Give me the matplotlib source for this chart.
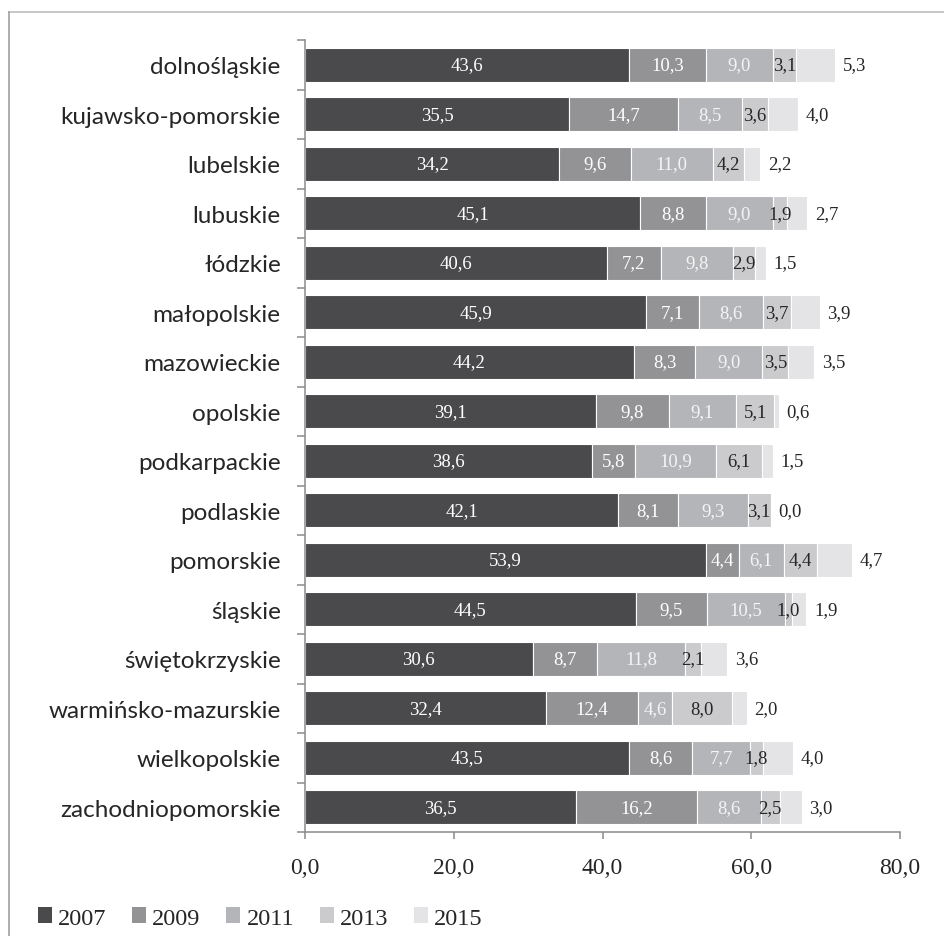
import numpy as np
import matplotlib
matplotlib.use('Agg')
import matplotlib.pyplot as plt
from matplotlib.patches import Patch
from matplotlib.lines import Line2D

regions = ['dolnośląskie', 'kujawsko-pomorskie', 'lubelskie', 'lubuskie', 'łódzkie',
           'małopolskie', 'mazowieckie', 'opolskie', 'podkarpackie', 'podlaskie',
           'pomorskie', 'śląskie', 'świętokrzyskie', 'warmińsko-mazurskie',
           'wielkopolskie', 'zachodniopomorskie']
years = ['2007', '2009', '2011', '2013', '2015']

v2007 = [43.6, 35.5, 34.2, 45.1, 40.6, 45.9, 44.2, 39.1, 38.6, 42.1, 53.9, 44.5, 30.6, 32.4, 43.5, 36.5]
v2009 = [10.3, 14.7, 9.6, 8.8, 7.2, 7.1, 8.3, 9.8, 5.8, 8.1, 4.4, 9.5, 8.7, 12.4, 8.6, 16.2]
v2011 = [9.0, 8.5, 11.0, 9.0, 9.8, 8.6, 9.0, 9.1, 10.9, 9.3, 6.1, 10.5, 11.8, 4.6, 7.7, 8.6]
v2013 = [3.1, 3.6, 4.2, 1.9, 2.9, 3.7, 3.5, 5.1, 6.1, 3.1, 4.4, 1.0, 2.1, 8.0, 1.8, 2.5]
v2015 = [5.3, 4.0, 2.2, 2.7, 1.5, 3.9, 3.5, 0.6, 1.5, 0.0, 4.7, 1.9, 3.6, 2.0, 4.0, 3.0]

xticks = [0, 20, 40, 60, 80]

colors = ['#4a4a4d', '#939396', '#b4b5b8', '#cbcbcd', '#e4e4e6']
label_colors = ['white', 'white', '#f4f4f4', '#262626', '#262626']
num_font = 'Liberation Serif'
txt_font = 'Lato'


def fmt(v):
    return '{:.1f}'.format(v).replace('.', ',')


fig = plt.figure(figsize=(9.44, 9.37), dpi=100)
ax = fig.add_axes([305 / 944, 1 - 833 / 937, 595 / 944, 792 / 937])

y = np.arange(len(regions))
series = [v2007, v2009, v2011, v2013, v2015]
left = np.zeros(len(regions))
handles = []
for k, vals in enumerate(series):
    vals = np.array(vals)
    ax.barh(y, vals, left=left, height=0.69, color=colors[k],
            edgecolor='white', linewidth=0.8, label=years[k])
    if k < 4:
        for yi, l, v in zip(y, left, vals):
            ax.text(l + v / 2, yi, fmt(v), ha='center', va='center',
                    color=label_colors[k], fontsize=13.5, family=num_font)
    else:
        # last series is labelled just past the end of the bar
        for yi, l, v in zip(y, left, vals):
            ax.annotate(fmt(v), xy=(l + v, yi), xytext=(5.5, 0),
                        textcoords='offset points', ha='left', va='center',
                        color='#262626', fontsize=13.5, family=num_font)
    left = left + vals
    handles.append(Patch(facecolor=colors[k], edgecolor='none', label=years[k]))

ax.set_xlim(0, 80)
ax.set_ylim(len(regions) - 0.5, -0.5)

ax.set_xticks(xticks)
ax.set_xticklabels([fmt(t) for t in xticks], family=num_font, fontsize=17, color='#262626')
ax.tick_params(axis='x', direction='out', length=5, width=1.1, color='#8a8a8a', pad=13)

ax.set_yticks(y)
ax.set_yticklabels(regions, family=txt_font, fontsize=17.5, color='#262626')
ax.set_yticks(np.arange(-0.5, len(regions), 1.0), minor=True)
ax.tick_params(axis='y', which='major', length=0, pad=17.5)
ax.tick_params(axis='y', which='minor', direction='out', length=6, width=1.1, color='#8a8a8a')

for s in ['top', 'right']:
    ax.spines[s].set_visible(False)
for s in ['left', 'bottom']:
    ax.spines[s].set_color('#8a8a8a')
    ax.spines[s].set_linewidth(1.1)

leg = fig.legend(handles=handles, loc='center left', bbox_to_anchor=(38 / 944, 1 - 919 / 937),
                 ncol=5, frameon=False, borderpad=0, borderaxespad=0,
                 handlelength=0.58, handleheight=0.58, handletextpad=0.25,
                 columnspacing=1.05, prop={'family': num_font, 'size': 17.5})
for t in leg.get_texts():
    t.set_color('#262626')

# thin frame lines along the top and left edge
fig.add_artist(Line2D([9 / 944, 1], [1 - 13 / 937, 1 - 13 / 937], color='#bdbdbd', lw=1.2))
fig.add_artist(Line2D([9 / 944, 9 / 944], [0, 1 - 13 / 937], color='#a0a0a0', lw=1.2))

fig.savefig('out.png', dpi=100)
